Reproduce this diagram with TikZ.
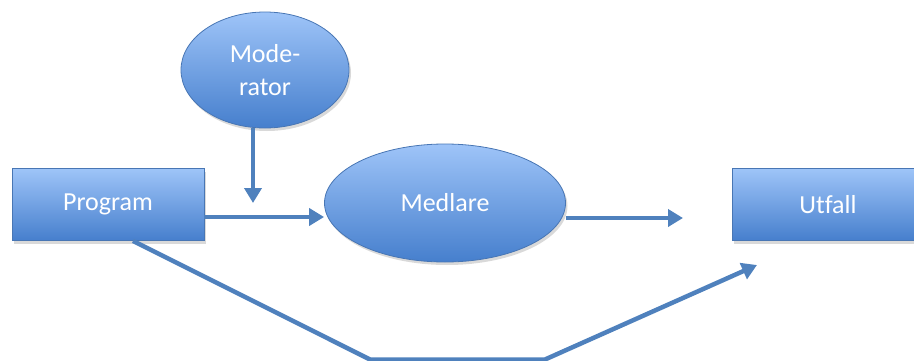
\documentclass[tikz,border=0pt]{standalone}
\usepackage{fontspec}
\setmainfont{Carlito}[Ligatures=NoCommon]
\usepackage{xcolor}
\usetikzlibrary{arrows.meta,shapes.geometric,shadows}
\definecolor{flowblue}{RGB}{79,129,189}
\definecolor{boxtop}{RGB}{158,196,248}
\definecolor{boxbot}{RGB}{70,127,205}
\definecolor{boxline}{RGB}{72,118,180}
\begin{document}
\begin{tikzpicture}[x=1pt,y=1pt,
  font=\fontsize{26}{33}\selectfont,
  blob/.style={draw=boxline,line width=0.8pt,top color=boxtop,bottom color=boxbot,
    text=white,align=center,drop shadow={shadow xshift=2pt,shadow yshift=-3pt,opacity=0.3}},
  box/.style={blob,rectangle,minimum width=192pt,minimum height=72pt},
  oval/.style={blob,ellipse,inner sep=0pt},
  flow/.style={draw=flowblue,line width=4.5pt,-{Triangle[length=15pt,width=17pt]}}]
  \clip (0,0) rectangle (914,360);
  \node[box] (prog) at (108,155.5) {\raisebox{-3pt}{Program}};
  \node[box] (utf) at (828,155.5) {\raisebox{-3pt}{Utfall}};
  \node[oval,minimum width=168pt,minimum height=116pt] (mod) at (265,290) {Mode-\\rator};
  \node[oval,minimum width=241pt,minimum height=118pt] (med) at (445,157) {\raisebox{-3pt}{Medlare}};
  \coordinate (modin) at (253,157);
  \coordinate (medout) at (683,142);
  \coordinate (low1) at (370,0.5);
  \coordinate (low2) at (545,0.5);
  \coordinate (utfin) at (757,95);
  \draw[flow] (mod.south -| modin) -- (modin);
  \draw[flow] ([yshift=-12.5pt]prog.east) -- ([yshift=-12.5pt]prog.east -| med.west);
  \draw[flow] (medout -| med.east) -- (medout);
  \draw[flow] ([xshift=25pt]prog.south) -- (low1) -- (low2) -- (utfin);
\end{tikzpicture}
\end{document}
